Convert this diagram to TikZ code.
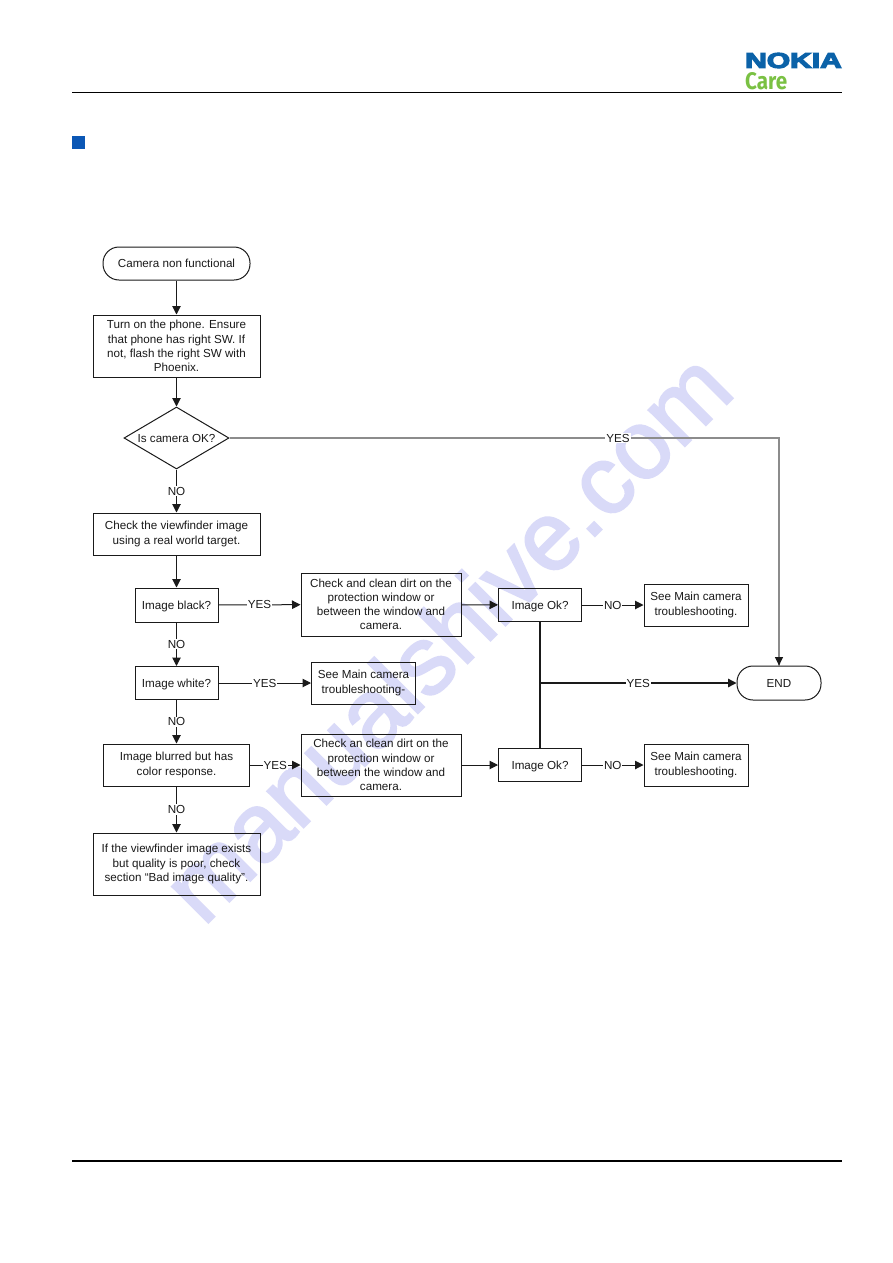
\documentclass[tikz,border=0pt]{standalone}
\usepackage{fontspec}
\usetikzlibrary{shapes.geometric,arrows.meta}
\setmainfont{Liberation Sans}
\newfontfamily\carefont{Fira Sans}
\definecolor{nokiablue}{HTML}{0B62A8}
\definecolor{bullet}{HTML}{0B57B5}
\definecolor{caregreen}{HTML}{7AC143}
\definecolor{stamp}{HTML}{D9DAF8}
\definecolor{inkline}{HTML}{1A1A1A}
% fill-and-stroke text rendering: #1 stroke colour as RGB, #2 stroke width, #3 text
\newcommand{\strokedtext}[3]{\special{pdf:code q #1 RG #2 w 2 Tr}#3\special{pdf:code Q}}
\tikzset{
  x=1pt,y=-1pt,
  every node/.style={font=\fontsize{11.65}{14.2}\selectfont,text=inkline},
  procbox/.style={draw=inkline,line width=1pt,align=center,inner sep=0pt,minimum width=#1},
  oneline/.style={text height=8.6pt,text depth=0pt},
  term/.style={draw=inkline,line width=1pt,rounded corners=16pt,inner sep=0pt,minimum width=#1,minimum height=33pt,align=center},
  choice/.style={draw=inkline,line width=1pt,diamond,aspect=1.69,inner sep=0pt,minimum width=105pt,minimum height=62pt,align=center},
  link/.style={draw=inkline,line width=1pt,-{Triangle[length=8.5pt,width=8.5pt]}},
  plain/.style={draw=inkline,line width=1pt},
  greyrun/.style={draw=black!45,line width=1.1pt},
  tag/.style={fill=white,inner sep=1pt}
}
\begin{document}
\begin{tikzpicture}
\useasboundingbox (0,0) rectangle (893,1263);
\fill[white] (0,0) rectangle (893,1263);

% background stamp
\node[rotate=45,text=stamp,font=\fontsize{97}{97}\selectfont,inner sep=0pt] (stampmark) at (446,636) {\strokedtext{0.851 0.855 0.973}{2}{manualshive.com}};

% page furniture
\coordinate (headL) at (72,92.7);
\coordinate (headR) at (842,92.7);
\draw[black,line width=1pt] (headL) -- (headR);
\coordinate (footL) at (72,1161);
\coordinate (footR) at (842,1161);
\draw[black,line width=1.8pt] (footL) -- (footR);
\fill[bullet] (72,136) rectangle (84.5,149);
\node[inner sep=0pt,anchor=center,text=nokiablue] (logo) at (793.5,60.5) {\resizebox{96.5pt}{15pt}{\strokedtext{0.043 0.384 0.659}{0.6}{\bfseries NOKIA}}};
\node[inner sep=0pt,anchor=west,text=caregreen] (care) at (745,81) {\resizebox{42pt}{17pt}{\carefont\bfseries Care}};

% flow nodes
\node[term=147pt] (start) at (176.5,263.5) {Camera non functional};
\node[procbox=167pt,minimum height=62pt] (phone) at (176.5,346) {Turn on the phone. Ensure\\that phone has right SW. If\\not, flash the right SW with\\Phoenix.};
\node[choice] (camok) at (176.5,438) {Is camera OK?};
\node[procbox=167pt,minimum height=42pt] (finder) at (176.5,534) {Check the viewfinder image\\using a real world target.};
\node[procbox=83pt,minimum height=34pt,oneline] (black) at (176.5,605) {Image black?};
\node[procbox=160pt,minimum height=63pt] (clean1) at (381,604.5) {Check and clean dirt on the\\protection window or\\between the window and\\camera.};
\node[procbox=83pt,minimum height=33pt,oneline] (okA) at (540,605) {Image Ok?};
\node[procbox=104pt,minimum height=42pt] (seeA) at (696,605) {See Main camera\\troubleshooting.};
\node[procbox=83pt,minimum height=33pt,oneline] (white) at (176.5,683) {Image white?};
\node[procbox=104pt,minimum height=42pt] (seeW) at (363.5,683) {See Main camera\\troubleshooting-};
\node[term=84pt,minimum height=34pt] (endn) at (779,683) {END};
\node[procbox=146pt,minimum height=42pt] (blur) at (176.5,765) {Image blurred but has\\color response.};
\node[procbox=160pt,minimum height=62pt] (clean2) at (381,765) {Check an clean dirt on the\\protection window or\\between the window and\\camera.};
\node[procbox=83pt,minimum height=33pt,oneline] (okB) at (540,765) {Image Ok?};
\node[procbox=104pt,minimum height=42pt] (seeB) at (696,765) {See Main camera\\troubleshooting.};
\node[procbox=167pt,minimum height=62pt] (poor) at (176.5,864) {If the viewfinder image exists\\but quality is poor, check\\section “Bad image quality”.};

% connectors
\draw[link] (start) -- (phone);
\draw[link] (phone) -- (camok);
\draw[link] (camok) -- node[tag]{NO} (finder);
\draw[link] (finder) -- (black);
\draw[link] (black) -- node[tag]{NO} (white);
\draw[link] (white) -- node[tag]{NO} (blur);
\draw[link] (blur) -- node[tag]{NO} (poor);
\draw[link] (black) -- node[tag]{YES} (clean1);
\draw[link] (white) -- node[tag]{YES} (seeW);
\draw[link] (blur) -- node[tag]{YES} (clean2);
\draw[link] (clean1) -- (okA);
\draw[link] (clean2) -- (okB);
\draw[link] (okA) -- node[tag]{NO} (seeA);
\draw[link] (okB) -- node[tag]{NO} (seeB);
\draw[plain,line width=1.3pt] (okA) -- (okB);
\coordinate (merge) at (okA.south |- endn.west);
\draw[link,line width=1.4pt] (merge) -- node[tag]{YES} (endn);
\coordinate (bend) at (camok.east -| endn.north);
\draw[greyrun] (camok.east) -- node[tag,pos=.707]{YES} (bend) -- (endn.north);
\fill[inkline] (endn.north) -- ++(-4.2,-8.5) -- ++(8.4,0) -- cycle;
\end{tikzpicture}
\end{document}
